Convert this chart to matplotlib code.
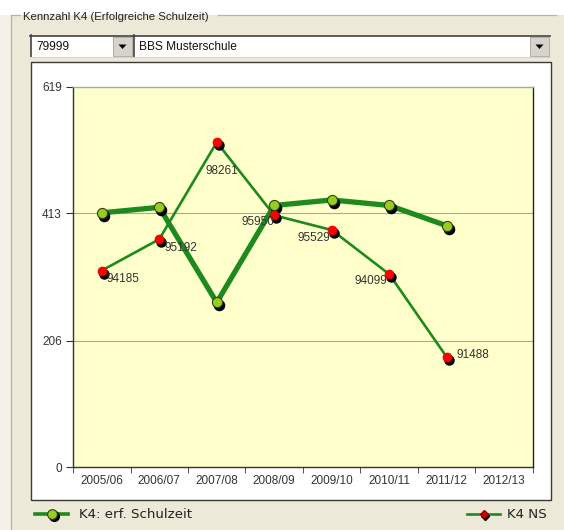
import numpy as np
import matplotlib
matplotlib.use("Agg")
import matplotlib.pyplot as plt
from matplotlib.patches import Rectangle, Polygon
from matplotlib.lines import Line2D
from matplotlib.transforms import offset_copy

# data
years = ["2005/06", "2006/07", "2007/08", "2008/09", "2009/10", "2010/11", "2011/12", "2012/13"]
k4_schulzeit = [414, 423, 268, 426, 435, 426, 393]
k4_ns = [320, 371, 529, 410, 386, 314, 179]
ns_labels = ["94185", "95192", "98261", "95950", "95529", "94099", "91488"]
y_ticks = [0, 206, 413, 619]

# label placement (pixels relative to the point) and alignment
lab_off = [(5, -8, "left"), (5, -9, "left"), (5, -29, "center"), (0, -7, "right"),
           (-1, -8, "right"), (-2, -7, "right"), (10, 2, "left")]

W, H = 564, 530
fig = plt.figure(figsize=(W / 100, H / 100), dpi=100)
fig.patch.set_facecolor("white")


def fx(px):
    return px / W


def fy(py):
    return 1 - py / H


def rect(x0, y0, x1, y1, **kw):
    r = Rectangle((fx(x0), fy(y1)), fx(x1) - fx(x0), fy(y0) - fy(y1),
                  transform=fig.transFigure, **kw)
    fig.add_artist(r)


def hline(x0, x1, y, **kw):
    fig.add_artist(Line2D([fx(x0), fx(x1)], [fy(y), fy(y)], transform=fig.transFigure, **kw))


def vline(x, y0, y1, **kw):
    fig.add_artist(Line2D([fx(x), fx(x)], [fy(y0), fy(y1)], transform=fig.transFigure, **kw))


beige = "#ECE9D8"
rect(0, 15, 11, 530, facecolor="#F3F1E8", edgecolor="none")
rect(11, 15, 564, 530, facecolor=beige, edgecolor="none")

# group box frame with title
hline(11, 20, 15, color="#B8B4A4", lw=0.9)
hline(218, 556, 15, color="#B8B4A4", lw=0.9)
vline(11, 15, 530, color="#B8B4A4", lw=0.9)
fig.text(fx(23), fy(17), "Kennzahl K4 (Erfolgreiche Schulzeit)", fontsize=8.2,
         family="Liberation Sans", color="#222222", ha="left", va="center")


def combo(x0, x1, text):
    rect(x0, 35, x1, 57, facecolor="white", edgecolor="none")
    hline(x0, x1, 35.5, color="#404040", lw=1.2)
    vline(x0 + 0.5, 35, 57, color="#404040", lw=1.2)
    hline(x0, x1, 57, color="#D8D4C8", lw=0.8)
    bx = x1 - 20
    rect(bx, 37, x1 - 1, 56, facecolor="#D6D3CA", edgecolor="#A8A49A", lw=0.6)
    cx, cy = bx + 9.5, 46.5
    fig.add_artist(Polygon([(fx(cx - 4), fy(cy - 2)), (fx(cx + 4), fy(cy - 2)), (fx(cx), fy(cy + 2.5))],
                           closed=True, facecolor="black", edgecolor="none", transform=fig.transFigure))
    fig.text(fx(x0 + 6), fy(47), text, fontsize=8.6, family="Liberation Sans",
             color="#111111", ha="left", va="center")


combo(30, 133, "79999")
combo(133, 550, "BBS Musterschule")

# white chart box
rect(30.5, 62, 551, 500, facecolor="white", edgecolor="#3A3A3A", lw=1.0)

# plot area
ax = fig.add_axes([fx(73), fy(467), fx(533) - fx(73), fy(87) - fy(467)])
ax.set_zorder(5)
ax.set_facecolor("#FFFFCC")
x = np.arange(len(years))
ax.set_xlim(-0.5, len(years) - 0.5)
ax.set_ylim(0, 619)
ax.set_yticks(y_ticks)
ax.set_yticklabels([str(v) for v in y_ticks], fontsize=8.5, family="Liberation Sans", color="#333333")
ax.set_xticks(x)
ax.set_xticklabels(years, fontsize=8.5, family="Liberation Sans", color="#333333")
ax.set_xticks(np.arange(len(years) + 1) - 0.5, minor=True)
ax.tick_params(axis="x", which="major", length=0, pad=6)
ax.tick_params(axis="x", which="minor", length=4, color="#333333", direction="out")
ax.tick_params(axis="y", length=5, color="#333333", direction="out", pad=3)
for v in y_ticks[1:-1]:
    ax.axhline(v, color="#A8A8A0", lw=0.8, zorder=1)
ax.spines["top"].set_color("#A8A8A0")
ax.spines["right"].set_color("#222222")
ax.spines["left"].set_color("#333333")
ax.spines["bottom"].set_color("#333333")
for s in ax.spines.values():
    s.set_linewidth(1.0)

green = "#1E8A1E"
shadow = offset_copy(ax.transData, fig=fig, x=2, y=-3, units="dots")

xs = x[:len(k4_schulzeit)]
ax.plot(xs, k4_ns, color=green, lw=1.9, zorder=3)
ax.plot(xs, k4_schulzeit, color=green, lw=3.8, zorder=3, solid_joinstyle="round")

ax.plot(xs, k4_ns, ls="none", marker="o", ms=6.5, mfc="black", mec="black", transform=shadow, zorder=4)
ax.plot(xs, k4_ns, ls="none", marker="o", ms=6.5, mfc="#FF0000", mec="#E00000", mew=0.5, zorder=5)
ax.plot(xs, k4_schulzeit, ls="none", marker="o", ms=7.3, mfc="black", mec="black", transform=shadow, zorder=4)
ax.plot(xs, k4_schulzeit, ls="none", marker="o", ms=7.3, mfc="#99CC22", mec="#334400", mew=0.8, zorder=5)

for xi, yi, lab, (dx, dy, ha) in zip(xs, k4_ns, ns_labels, lab_off):
    ax.annotate(lab, (xi, yi), xytext=(dx, dy), textcoords="offset pixels", ha=ha, va="center",
                fontsize=8.5, family="Liberation Sans", color="#333333", zorder=6)

# legend under the box
ly = 514
hline(35, 68, ly, color=green, lw=2.6)
fig.add_artist(Line2D([fx(54)], [fy(ly + 2)], marker="o", ms=7, mfc="black", mec="black",
                      transform=fig.transFigure))
fig.add_artist(Line2D([fx(52)], [fy(ly)], marker="o", ms=7, mfc="#99CC22", mec="#334400", mew=0.8,
                      transform=fig.transFigure))
fig.text(fx(79), fy(ly), "K4: erf. Schulzeit", fontsize=9.6, family="DejaVu Sans",
         color="#222222", ha="left", va="center")
hline(467, 500, ly, color=green, lw=1.9)
fig.add_artist(Line2D([fx(485)], [fy(ly + 2)], marker="D", ms=4.5, mfc="black", mec="black",
                      transform=fig.transFigure))
fig.add_artist(Line2D([fx(483.5)], [fy(ly)], marker="D", ms=4.5, mfc="#CC0000", mec="#990000",
                      transform=fig.transFigure))
fig.text(fx(507), fy(ly), "K4 NS", fontsize=9.6, family="DejaVu Sans",
         color="#222222", ha="left", va="center")

fig.savefig("out.png", dpi=100, facecolor=fig.get_facecolor())
